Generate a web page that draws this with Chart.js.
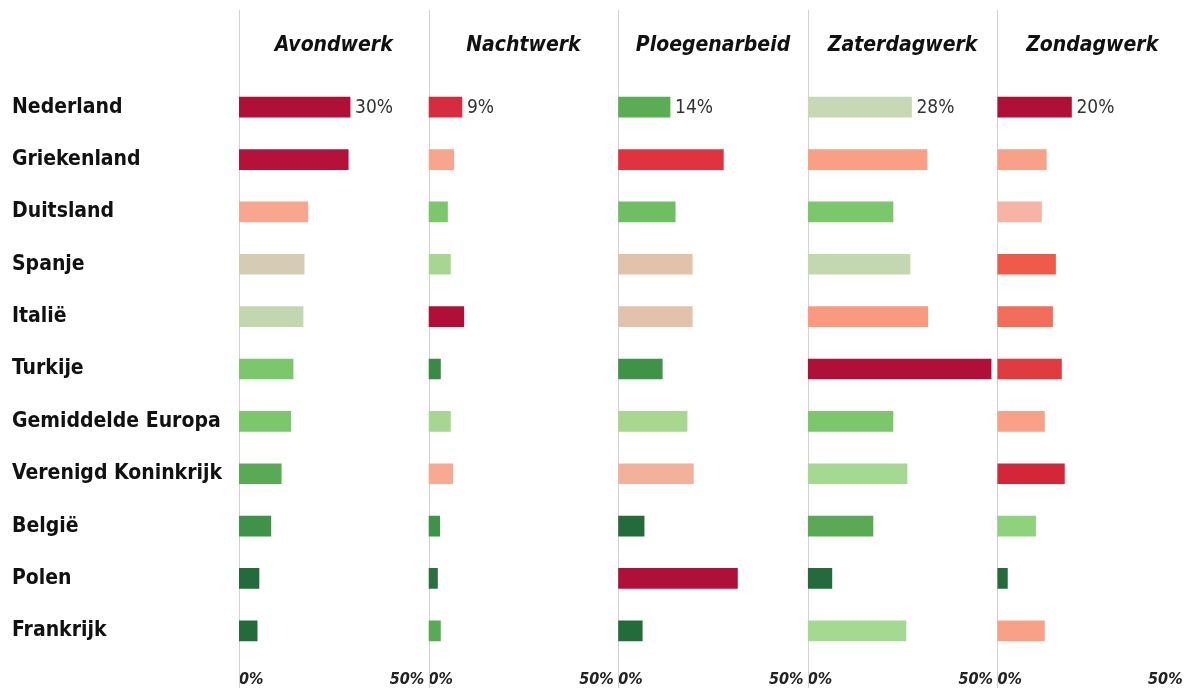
<!DOCTYPE html>
<html>
<head>
<meta charset="utf-8">
<script src="https://cdn.jsdelivr.net/npm/chart.js@4.4.1/dist/chart.umd.min.js"></script>
<style>
  html, body { margin: 0; padding: 0; background: #fff; }
  #wrap { width: 1187px; height: 688px; }
</style>
</head>
<body>
<div id="wrap"><canvas id="chart" width="1187" height="688"></canvas></div>
<script>
// landen (rijen)
const landen = ['Nederland', 'Griekenland', 'Duitsland', 'Spanje', 'Italië', 'Turkije',
  'Gemiddelde Europa', 'Verenigd Koninkrijk', 'België', 'Polen', 'Frankrijk'];

// soorten werk (panelen)
const soorten = ['Avondwerk', 'Nachtwerk', 'Ploegenarbeid', 'Zaterdagwerk', 'Zondagwerk'];

// percentages per soort, in volgorde van de landen
const avondwerk     = [30, 29.5, 18.6, 17.6, 17.3, 14.6, 14, 11.4, 8.6, 5.4, 4.9];
const nachtwerk     = [9, 6.8, 5.1, 5.9, 9.5, 3.2, 5.9, 6.5, 3.0, 2.4, 3.2];
const ploegenarbeid = [14, 28.4, 15.4, 20, 20, 11.9, 18.6, 20.3, 7.0, 32.2, 6.5];
const zaterdagwerk  = [28, 32.2, 23, 27.6, 32.4, 49.5, 23, 26.8, 17.6, 6.5, 26.5];
const zondagwerk    = [20, 13.2, 11.9, 15.7, 14.9, 17.3, 12.7, 18.1, 10.3, 2.7, 12.7];

const waarden = [avondwerk, nachtwerk, ploegenarbeid, zaterdagwerk, zondagwerk];

// kleuren (rood = hoger dan gemiddeld, groen = lager)
const kleurAvond  = ['#b01038', '#b41239', '#f8a690', '#d6ccb6', '#c2d7af', '#7cc66c',
  '#7cc66c', '#5aa955', '#3f9349', '#236b3b', '#236b3b'];
const kleurNacht  = ['#d72c3e', '#f9a48c', '#7cc66c', '#a8d692', '#b01038', '#3a8a45',
  '#a8d692', '#f9a892', '#3f9349', '#2a7040', '#5aa955'];
const kleurPloeg  = ['#5aac55', '#e0333f', '#6fbe63', '#e2c2aa', '#e2c2aa', '#3f9349',
  '#a8d890', '#f3b19d', '#236b3b', '#b01038', '#236b3b'];
const kleurZater  = ['#c6d8b4', '#f9a084', '#7cc66c', '#c3d7b0', '#f99a80', '#b01038',
  '#7cc66c', '#a5d890', '#5aa955', '#236b3b', '#a5d890'];
const kleurZon    = ['#b01038', '#f9a088', '#f5b4a4', '#f05a4a', '#f26d5a', '#e03c40',
  '#f9a088', '#d42638', '#8fd27c', '#236b3b', '#f9a088'];

const kleuren = [kleurAvond, kleurNacht, kleurPloeg, kleurZater, kleurZon];

const labelFont = "'DejaVu Sans Condensed', 'DejaVu Sans', sans-serif";

// titels, scheidingslijnen en de labels bij Nederland
const panelen = {
  id: 'panelen',
  beforeDatasetsDraw(chart) {
    const ctx = chart.ctx;
    ctx.save();
    ctx.strokeStyle = '#d2d2d2';
    ctx.lineWidth = 1;
    soorten.forEach((naam, i) => {
      const s = chart.scales['x' + i];
      const x = Math.round(s.getPixelForValue(0)) + 0.5;
      ctx.beginPath();
      ctx.moveTo(x, 10);
      ctx.lineTo(x, chart.height);
      ctx.stroke();

      ctx.fillStyle = '#111';
      ctx.font = 'italic bold 21px ' + labelFont;
      ctx.textAlign = 'center';
      ctx.textBaseline = 'middle';
      ctx.fillText(naam, (s.left + s.right) / 2, 46);
    });
    ctx.restore();
  },
  afterDatasetsDraw(chart) {
    const ctx = chart.ctx;
    ctx.save();
    ctx.fillStyle = '#333';
    ctx.font = '19px ' + labelFont;
    ctx.textAlign = 'left';
    ctx.textBaseline = 'middle';
    chart.data.datasets.forEach((ds, i) => {
      const bar = chart.getDatasetMeta(i).data[0];
      ctx.fillText(ds.data[0] + '%', bar.x + 5, bar.y + 1);
    });
    ctx.restore();
  }
};

const datasets = soorten.map((naam, i) => ({
  label: naam,
  data: waarden[i],
  xAxisID: 'x' + i,
  backgroundColor: kleuren[i],
  barThickness: 20,
  grouped: false
}));

const scales = {
  y: {
    type: 'category',
    labels: landen,
    grid: { display: false, drawTicks: false },
    border: { display: false },
    ticks: {
      crossAlign: 'far',
      padding: 0,
      color: '#111',
      font: { family: labelFont, size: 21, weight: 'bold' }
    },
    afterFit(scale) { scale.width = 227; }
  }
};

soorten.forEach((naam, i) => {
  scales['x' + i] = {
    type: 'linear',
    position: 'bottom',
    stack: 'panelen',
    min: 0,
    max: 51.2,
    grid: { display: false, drawTicks: false },
    border: { display: false },
    afterBuildTicks(scale) { scale.ticks = [{ value: 0 }, { value: 50 }]; },
    afterFit(scale) {
      scale.height = 31;
      scale.paddingLeft = 0;
      scale.paddingRight = 0;
    },
    ticks: {
      align: 'inner',
      padding: 13,
      color: '#222',
      maxRotation: 0,
      callback: v => v + '%',
      font: { family: labelFont, size: 16, weight: 'bold', style: 'italic' }
    }
  };
});

new Chart(document.getElementById('chart'), {
  type: 'bar',
  data: { labels: landen, datasets: datasets },
  options: {
    indexAxis: 'y',
    responsive: false,
    animation: false,
    layout: { padding: { top: 81, left: 12, right: 0, bottom: 0 } },
    scales: scales,
    plugins: {
      legend: { display: false },
      tooltip: { enabled: false }
    }
  },
  plugins: [panelen]
});
</script>
</body>
</html>
